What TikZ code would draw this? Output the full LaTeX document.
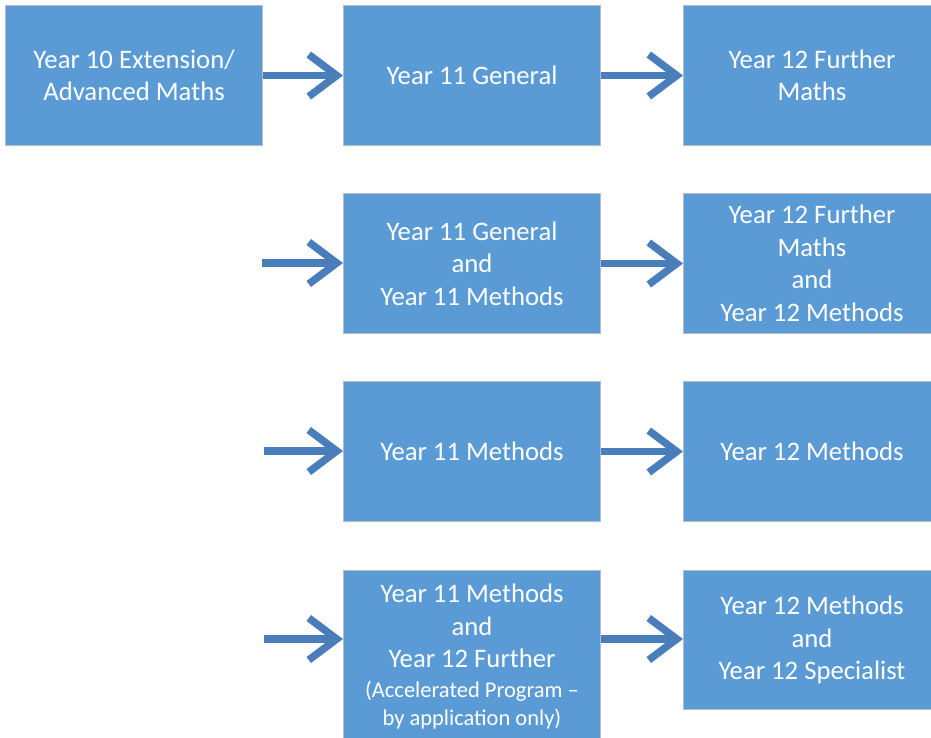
\documentclass[tikz,border=0pt]{standalone}
\usepackage{fontspec}
\setmainfont{Carlito}
\usetikzlibrary{arrows.meta}
\definecolor{boxblue}{HTML}{5B9BD5}
\definecolor{boxedge}{HTML}{B7BCC4}
\definecolor{arrowblue}{HTML}{4A7EBB}
\tikzset{
  stepbox/.style={draw=boxedge, line width=1pt, fill=boxblue, text=white,
    minimum width=257pt, minimum height=140pt, inner sep=0pt,
    align=center, anchor=north west,
    font=\fontsize{26.7}{32.6}\selectfont},
  flow/.style={draw=arrowblue, line width=7.5pt,
    -{Straight Barb[length=28pt,width=42pt]}}
}
\begin{document}
\begin{tikzpicture}[x=1pt,y=-1pt]
\useasboundingbox (0,0) rectangle (931,737);
\clip (0,0) rectangle (931,737);
% row 1
\node[stepbox] (a1) at (5,5) {Year 10 Extension/\\Advanced Maths};
\node[stepbox] (b1) at (343,5) {Year 11 General};
\node[stepbox] (c1) at (683,5) {Year 12 Further\\Maths};
% row 2
\node[stepbox] (b2) at (343,193) {Year 11 General\\and\\Year 11 Methods};
\node[stepbox] (c2) at (683,193) {Year 12 Further\\Maths\\and\\Year 12 Methods};
% row 3
\node[stepbox] (b3) at (343,381) {Year 11 Methods};
\node[stepbox] (c3) at (683,381) {Year 12 Methods};
% row 4
\node[stepbox, minimum height=172pt] (b4) at (343,570) {Year 11 Methods\\and\\Year 12 Further\\[-3pt]{\fontsize{22.5}{28}\selectfont (Accelerated Program –}\\[-5pt]{\fontsize{22.5}{28}\selectfont by application only)}};
\node[stepbox, minimum height=139pt] (c4) at (683,570) {Year 12 Methods\\and\\Year 12 Specialist};
% free starts
\coordinate (s2) at (262,263);
\coordinate (s3) at (264,451);
\coordinate (s4) at (264,639);
% connectors
\draw[flow] (a1.east) -- (b1.west);
\draw[flow] (b1.east) -- (c1.west);
\draw[flow] (s2) -- (s2 -| b2.west);
\draw[flow] (b2.east) -- (c2.west);
\draw[flow] (s3) -- (s3 -| b3.west);
\draw[flow] (b3.east) -- (c3.west);
\draw[flow] (s4) -- (s4 -| b4.west);
\draw[flow] (b4.east |- s4) -- (s4 -| c4.west);
\end{tikzpicture}
\end{document}
